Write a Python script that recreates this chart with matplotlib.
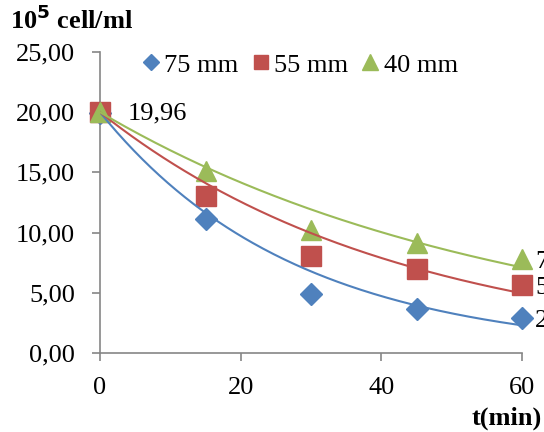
import numpy as np
import matplotlib.pyplot as plt

plt.rcParams['font.family'] = ['Liberation Serif', 'DejaVu Serif']

# time points (min) and cell counts (10^5 cell/ml)
t = [0, 15, 30, 45, 60]
y75 = [19.96, 11.1, 4.9, 3.65, 2.9]
y55 = [20.0, 13.04, 8.06, 6.98, 5.65]
y40 = [20.0, 15.1, 10.2, 9.1, 7.8]

labels = ['75 mm', '55 mm', '40 mm']
colors = ['#4F81BD', '#C0504D', '#9BBB59']
markers = ['D', 's', '^']
msizes = [11, 14, 15]

end_labels = ['2,90', '5,65', '7,80']

fig = plt.figure(figsize=(5.44, 4.32), dpi=100)
ax = fig.add_axes([100/544, 79/432, 422/544, 301/432])

tt = np.linspace(0, 60, 200)
for ys, lab, c, m, ms in zip([y75, y55, y40], labels, colors, markers, msizes):
    ax.plot(t, ys, linestyle='none', marker=m, markersize=ms, color=c,
            label=lab, clip_on=False, zorder=3)
    # exponential trend line with intercept fixed at 20
    x = np.array(t[1:], dtype=float)
    d = np.log(20) - np.log(np.array(ys[1:]))
    k = np.sum(x * d) / np.sum(x * x)
    ax.plot(tt, 20 * np.exp(-k * tt), color=c, linewidth=1.5, zorder=4)

# data labels
ax.text(3.9, y75[0] - 0.1, '19,96', fontsize=19, va='center', ha='left')
for ys, s in zip([y75, y55, y40], end_labels):
    ax.text(61.9, ys[-1] - 0.2, s, fontsize=19, va='center', ha='left',
            clip_on=False)

ax.set_xlim(0, 60)
ax.set_ylim(0, 25)
ax.set_xticks([0, 20, 40, 60])
ax.set_yticks([0, 5, 10, 15, 20, 25])
ax.set_yticklabels(['0,00', '5,00', '10,00', '15,00', '20,00', '25,00'])

for side in ['top', 'right']:
    ax.spines[side].set_visible(False)
for side in ['left', 'bottom']:
    ax.spines[side].set_color('#868686')
    ax.spines[side].set_linewidth(1.2)
ax.tick_params(direction='out', length=6, width=1.2, color='#868686',
               labelsize=19)
ax.tick_params(axis='y', pad=12)
ax.tick_params(axis='x', pad=11)

ax.legend(loc='upper left', bbox_to_anchor=(0.033, 1.075), ncol=3, frameon=False,
          fontsize=19, handletextpad=0.0, columnspacing=0.35, handlelength=1.0,
          markerscale=0.75)

fig.text(10/544, 1 - 20/432, r'10$^{\mathbf{5}}$ cell/ml', fontsize=19,
         fontweight='bold', va='center', ha='left')
fig.text(472/544, 1 - 418/432, 't(min)', fontsize=19, fontweight='bold',
         va='center', ha='left')

fig.savefig('out.png', dpi=100)
